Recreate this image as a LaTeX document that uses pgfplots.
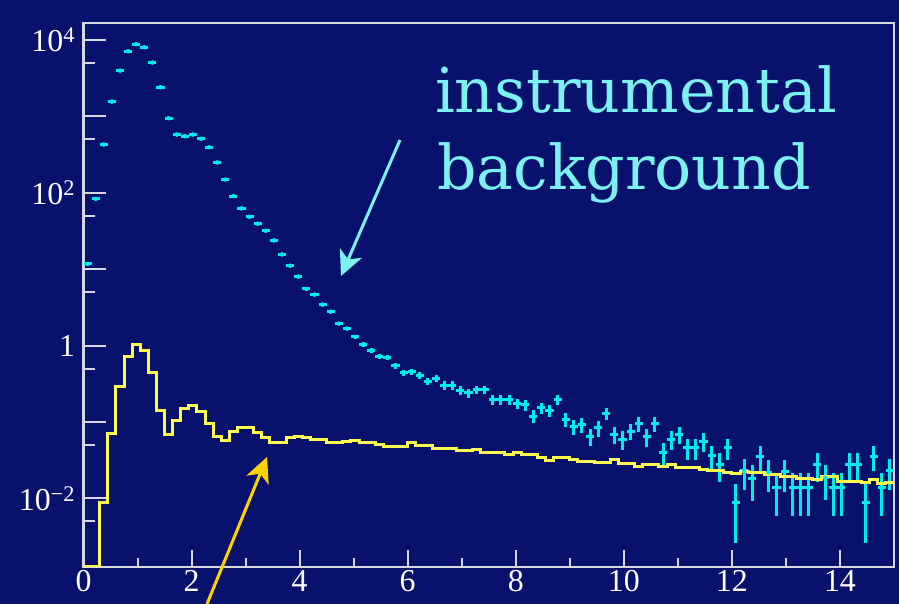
\documentclass[border=0pt]{standalone}
\usepackage{pgfplots}
\pgfplotsset{compat=1.18}
\usepackage{pgfplotstable}
\usepackage{fontspec}
\setmainfont{Liberation Serif}
\newfontfamily\annfont{DejaVu Serif}
\usetikzlibrary{arrows.meta}
\definecolor{bgblue}{RGB}{8,18,108}
\definecolor{axisgray}{RGB}{215,215,225}
\definecolor{datacyan}{RGB}{0,235,235}
\definecolor{textcyan}{RGB}{125,240,240}
\definecolor{histyellow}{RGB}{255,250,80}
\definecolor{arrowyellow}{RGB}{255,210,0}

\pgfplotstableread{
x y ey
0.075 11.7 0.23
0.225 83.2 0.61
0.375 428 1.39
0.525 1560 2.65
0.675 3970 4.2
0.825 7110 5.7
0.975 8790 6.3
1.125 8020 6.0
1.275 5060 4.8
1.425 2410 3.3
1.575 946 2.06
1.725 578 1.61
1.875 551 1.57
2.025 578 1.61
2.175 508 1.51
2.325 395 1.33
2.475 249 1.06
2.625 149 0.82
2.775 90.6 0.64
2.925 62.4 0.53
3.075 48.5 0.47
3.225 39.4 0.42
3.375 31.8 0.38
3.525 23.8 0.33
3.675 15.6 0.26
3.825 11.1 0.22
3.975 7.98 0.19
4.125 5.51 0.157
4.275 4.65 0.145
4.425 3.44 0.124
4.575 2.78 0.112
4.725 1.94 0.093
4.875 1.67 0.087
5.025 1.30 0.076
5.175 1.04 0.068
5.325 0.861 0.062
5.475 0.724 0.057
5.625 0.703 0.056
5.775 0.548 0.050
5.925 0.440 0.0445
6.075 0.453 0.0452
6.225 0.406 0.0427
6.375 0.341 0.0392
6.525 0.371 0.0409
6.675 0.303 0.0369
6.825 0.303 0.0369
6.975 0.261 0.0343
7.125 0.241 0.0329
7.275 0.266 0.0346
7.425 0.266 0.0346
7.575 0.197 0.0298
7.725 0.197 0.0298
7.875 0.197 0.0298
8.025 0.175 0.0281
8.175 0.169 0.0276
8.325 0.119 0.0231
8.475 0.153 0.0262
8.625 0.143 0.0254
8.775 0.197 0.0298
8.925 0.108 0.0220
9.075 0.0865 0.0197
9.225 0.0927 0.0204
9.375 0.0652 0.0171
9.525 0.0839 0.0194
9.675 0.129 0.0241
9.825 0.0687 0.0176
9.975 0.0590 0.0163
10.125 0.0759 0.0185
10.275 0.0946 0.0206
10.425 0.0640 0.0170
10.575 0.0946 0.0206
10.725 0.0403 0.0135
10.875 0.0590 0.0163
11.025 0.0687 0.0176
11.175 0.0459 0.0144
11.325 0.0459 0.0144
11.475 0.0561 0.0159
11.625 0.0365 0.0128
11.775 0.0278 0.0112
11.925 0.0459 0.0144
12.075 0.00895 0.00635
12.225 0.0229 0.0101
12.375 0.0184 0.0091
12.525 0.0357 0.0127
12.675 0.0221 0.0100
12.825 0.0138 0.00788
12.975 0.0223 0.0100
13.125 0.0138 0.00788
13.275 0.0138 0.00788
13.425 0.0138 0.00788
13.575 0.0278 0.0112
13.725 0.0186 0.00915
13.875 0.0138 0.00788
14.025 0.0138 0.00788
14.175 0.0278 0.0112
14.325 0.0278 0.0112
14.475 0.00895 0.00635
14.625 0.0357 0.0127
14.775 0.0138 0.00788
14.925 0.0229 0.0101
}\cyandata

\pgfplotstableread{
x y
0 0.00128
0.15 0.00128
0.3 0.00879
0.45 0.0700
0.6 0.294
0.75 0.711
0.9 1.03
1.05 0.869
1.2 0.440
1.35 0.141
1.5 0.0687
1.65 0.105
1.8 0.150
1.95 0.164
2.1 0.138
2.25 0.0946
2.4 0.0653
2.55 0.0573
2.7 0.0745
2.85 0.0839
3.0 0.0839
3.15 0.0736
3.3 0.0621
3.45 0.0545
3.6 0.0545
3.75 0.0621
3.9 0.0653
4.05 0.0621
4.2 0.0590
4.35 0.0590
4.5 0.0533
4.65 0.0537
4.8 0.0562
4.95 0.0578
5.1 0.0545
5.25 0.0545
5.4 0.0508
5.55 0.0483
5.7 0.0483
5.85 0.0483
6.0 0.0533
6.15 0.0493
6.3 0.0493
6.45 0.0451
6.6 0.0451
6.75 0.0447
6.9 0.0424
7.05 0.0424
7.2 0.0438
7.35 0.0403
7.5 0.0403
7.65 0.0403
7.8 0.0376
7.95 0.0395
8.1 0.0376
8.25 0.0376
8.4 0.0340
8.55 0.0317
8.7 0.0340
8.85 0.0340
9.0 0.0324
9.15 0.0308
9.3 0.0308
9.45 0.0299
9.6 0.0292
9.75 0.0324
9.9 0.0287
10.05 0.0287
10.2 0.0265
10.35 0.0278
10.5 0.0278
10.65 0.0265
10.8 0.0278
10.95 0.0252
11.1 0.0252
11.25 0.0252
11.4 0.0239
11.55 0.0234
11.7 0.0234
11.85 0.0221
12.0 0.0212
12.15 0.0228
12.3 0.0217
12.45 0.0217
12.6 0.0206
12.75 0.0206
12.9 0.0195
13.05 0.0195
13.2 0.0181
13.35 0.0181
13.5 0.0177
13.65 0.0192
13.8 0.0192
13.95 0.0169
14.1 0.0169
14.25 0.0169
14.4 0.0160
14.55 0.0177
14.7 0.0157
14.85 0.0163
15.0 0.0163
}\yellowdata

\begin{document}
\begin{tikzpicture}
\fill[bgblue] (-83.5bp,-37.3bp) rectangle (815.5bp,566.7bp);
\begin{axis}[
  at={(0,0)}, anchor=south west,
  scale only axis, width=810.5bp, height=543.4bp,
  xmin=0, xmax=15,
  ymode=log, ymin=1.28e-3, ymax=1.65e4,
  axis line style={draw=axisgray, line width=2bp},
  tick style={draw=axisgray, line width=2bp},
  tick align=inside,
  xtick pos=left, ytick pos=left,
  xtick={0,2,4,6,8,10,12,14},
  xticklabels={0,2,4,6,8,10,12,14},
  minor xtick={1,3,5,7,9,11,13},
  ytick={1e-2,1e-1,1,1e1,1e2,1e3,1e4},
  yticklabels={10\textsuperscript{−2},,1,,10\textsuperscript{2},,10\textsuperscript{4}},
  minor ytick={5e-3,5e-2,0.5,5,50,500,5000},
  major tick length=23bp, minor tick length=12bp,
  xtick style={/pgfplots/major tick length=17bp, /pgfplots/minor tick length=9bp},
  ticklabel style={font=\fontsize{32}{38}\selectfont, text=white},
  yticklabel style={xshift=-5bp},
  clip=true,
]
\addplot[only marks, mark=none, color=datacyan,
  error bars/.cd, x dir=both, x fixed=0.075, y dir=both, y explicit,
  error mark=none, error bar style={line width=3bp, color=datacyan}]
  table[x=x, y=y, y error=ey]{\cyandata};
\addplot[const plot mark left, color=histyellow, line width=3bp]
  table[x=x, y=y]{\yellowdata};
\end{axis}
% annotations
\node[anchor=base west, inner sep=0pt, text=textcyan, font=\annfont\fontsize{62}{72}\selectfont] at (351.5bp,453.7bp) {instrumental};
\node[anchor=base west, inner sep=0pt, text=textcyan, font=\annfont\fontsize{62}{72}\selectfont] at (353.5bp,376.7bp) {background};
\draw[textcyan, line width=3bp, -{Stealth[length=25bp, width=24bp, inset=7bp]}] (316.5bp,426.7bp) -- (257.5bp,290.7bp);
\draw[arrowyellow, line width=3bp, -{Stealth[length=25bp, width=24bp, inset=7bp]}] (123.5bp,-37.3bp) -- (183.5bp,109.7bp);
\pgfresetboundingbox
\path[use as bounding box] (-83.5bp,-37.3bp) rectangle (815.5bp,566.7bp);
\end{tikzpicture}
\end{document}
